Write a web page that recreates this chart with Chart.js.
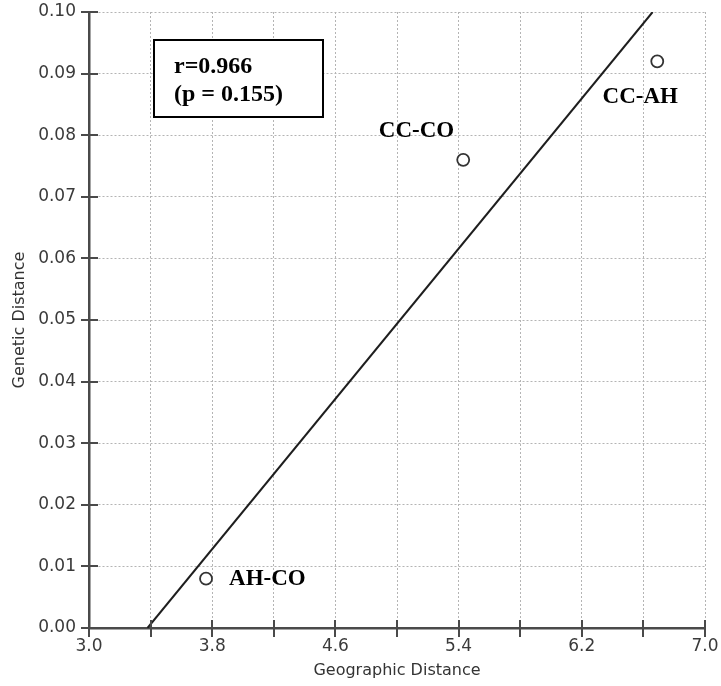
<!DOCTYPE html>
<html lang="en">
  <head>
    <meta charset="UTF-8" />
    <title>Genetic vs Geographic Distance</title>
    <script src="https://cdn.jsdelivr.net/npm/chart.js"></script>
    <style>
      body { margin: 0; background: #fff; }
      #wrap { width: 721px; height: 686px; }
    </style>
  </head>
  <body>
    <div id="wrap"><canvas id="distChart"></canvas></div>

    <script>
      // population pairs
      const pairs = ["AH-CO", "CC-CO", "CC-AH"];
      const geoDist = [3.76, 5.43, 6.69];
      const genDist = [0.008, 0.076, 0.092];

      // fitted line, end points
      const fitX = [3.38, 6.66];
      const fitY = [0.0, 0.1];

      const statsText = ["r=0.966", "(p = 0.155)"];

      // label offsets from their point, in px
      const labelOffsets = [
        { dx: 23, dy: 0, align: "left" },
        { dx: -9, dy: -29, align: "right" },
        { dx: -17, dy: 36, align: "center" },
      ];

      const axisColor = "#4a4a4a";

      const annotate = {
        id: "annotate",
        afterDraw(chart) {
          const { ctx, chartArea, scales } = chart;
          const x = scales.x, y = scales.y;
          ctx.save();

          // tick marks crossing the axis lines
          ctx.strokeStyle = axisColor;
          ctx.lineWidth = 2;
          ctx.beginPath();
          y.ticks.forEach((t) => {
            const py = Math.round(y.getPixelForValue(t.value));
            ctx.moveTo(chartArea.left - 8, py);
            ctx.lineTo(chartArea.left + 9, py);
          });
          x.ticks.forEach((t) => {
            const px = Math.round(x.getPixelForValue(t.value));
            ctx.moveTo(px, chartArea.bottom - 8);
            ctx.lineTo(px, chartArea.bottom + 9);
          });
          ctx.stroke();

          // point labels
          ctx.font = 'bold 23px "Liberation Serif"';
          ctx.fillStyle = "#000";
          ctx.textBaseline = "middle";
          pairs.forEach((name, i) => {
            const o = labelOffsets[i];
            ctx.textAlign = o.align;
            ctx.fillText(
              name,
              x.getPixelForValue(geoDist[i]) + o.dx,
              y.getPixelForValue(genDist[i]) + o.dy
            );
          });

          // stats box
          const bx = chartArea.left + 65, by = chartArea.top + 28;
          ctx.fillStyle = "#fff";
          ctx.fillRect(bx, by, 169, 77);
          ctx.strokeStyle = "#000";
          ctx.lineWidth = 2;
          ctx.strokeRect(bx, by, 169, 77);
          ctx.fillStyle = "#000";
          ctx.textAlign = "left";
          ctx.font = 'bold 24px "Liberation Serif"';
          ctx.fillText(statsText[0], bx + 20, by + 27);
          ctx.fillText(statsText[1], bx + 20, by + 55);

          ctx.restore();
        },
      };

      const grid = {
        color: "#b4b4b4",
        lineWidth: 1,
        drawTicks: false,
      };

      new Chart(document.getElementById("distChart"), {
        type: "scatter",
        data: {
          datasets: [
            {
              label: "pairs",
              data: geoDist.map((g, i) => ({ x: g, y: genDist[i] })),
              pointRadius: 6,
              pointBorderWidth: 1.8,
              pointBackgroundColor: "#fff",
              pointBorderColor: "#333",
            },
            {
              label: "fit",
              data: fitX.map((g, i) => ({ x: g, y: fitY[i] })),
              showLine: true,
              borderColor: "#1e1e1e",
              borderWidth: 2,
              pointRadius: 0,
            },
          ],
        },
        options: {
          responsive: true,
          maintainAspectRatio: false,
          animation: false,
          layout: {
            autoPadding: false,
            padding: { left: 0, top: 12, right: 16, bottom: 0 },
          },
          plugins: {
            legend: { display: false },
            tooltip: { enabled: false },
          },
          scales: {
            x: {
              type: "linear",
              min: 3,
              max: 7,
              afterFit: (s) => {
                s.height = 58;
                s.paddingLeft = 0;
                s.paddingRight = 0;
              },
              border: { color: axisColor, width: 2.5, dash: [2, 2] },
              grid: grid,
              ticks: {
                stepSize: 0.4,
                padding: 8,
                color: "#3a3a3a",
                font: { family: "DejaVu Sans", size: 17 },
                callback: (v, i) => (i % 2 === 0 ? Number(v).toFixed(1) : ""),
              },
              title: {
                display: true,
                text: "Geographic Distance",
                color: "#333",
                font: { family: "DejaVu Sans", size: 16 },
                padding: { top: 0, bottom: 6 },
              },
            },
            y: {
              type: "linear",
              min: 0,
              max: 0.1,
              afterFit: (s) => {
                s.width = 89;
                s.paddingTop = 0;
                s.paddingBottom = 0;
              },
              border: { color: axisColor, width: 2.5, dash: [2, 2] },
              grid: grid,
              ticks: {
                stepSize: 0.01,
                padding: 13,
                color: "#3a3a3a",
                font: { family: "DejaVu Sans", size: 17 },
                callback: (v) => Number(v).toFixed(2),
              },
              title: {
                display: true,
                text: "Genetic Distance",
                color: "#333",
                font: { family: "DejaVu Sans", size: 16 },
                padding: { top: 10, bottom: 0 },
              },
            },
          },
        },
        plugins: [annotate],
      });
    </script>
  </body>
</html>
